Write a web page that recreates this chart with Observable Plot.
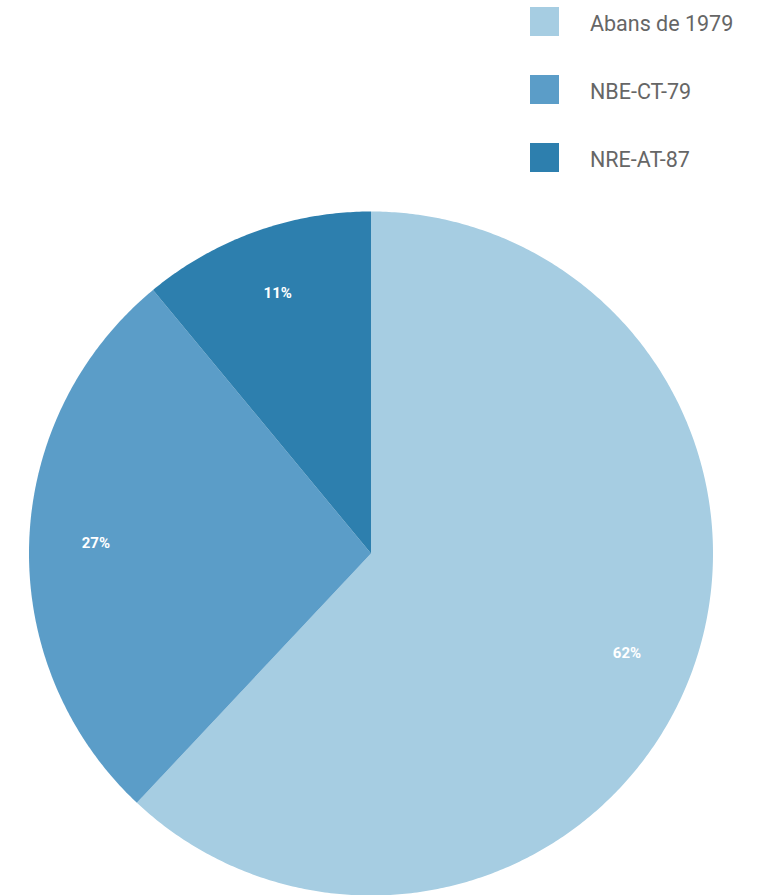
<!DOCTYPE html>
<html><head><meta charset="utf-8">
<script src="https://cdn.jsdelivr.net/npm/d3@7"></script>
<script src="https://cdn.jsdelivr.net/npm/@observablehq/plot@0.6"></script>
<style>
body{margin:0;background:#fff;font-family:Roboto,"Noto Sans",sans-serif;}
#legend{position:relative;height:190px;width:762px;}
.item{position:absolute;left:530px;display:flex;align-items:center;height:29px;}
.sw{width:29px;height:29px;flex:none;}
.lab{margin-left:31px;margin-top:4px;font-size:21.5px;color:#666;white-space:nowrap;}
#chart svg{display:block;}
</style></head><body>
<div id="legend"></div><div id="chart"></div>
<script>
const categories = ["Abans de 1979", "NBE-CT-79", "NRE-AT-87"];
const shares = [62, 27, 11];
const colors = ["#a6cde2", "#5b9dc8", "#2d7fae"];

// legend
const legend = document.getElementById("legend");
categories.forEach((c, i) => {
  const it = document.createElement("div");
  it.className = "item";
  it.style.top = (7 + i * 68) + "px";
  it.innerHTML = `<div class="sw" style="background:${colors[i]}"></div><div class="lab">${c}</div>`;
  legend.appendChild(it);
});

// pie geometry derived from shares (angles clockwise from 12 o'clock)
const arcs = d3.pie().sort(null).value(d => d)(shares);
const features = arcs.map((a, i) => {
  const ring = [[0, 0]];
  const n = Math.max(2, Math.ceil((a.endAngle - a.startAngle) / (Math.PI / 360)));
  for (let k = 0; k <= n; k++) {
    const t = a.startAngle + (a.endAngle - a.startAngle) * k / n;
    ring.push([Math.sin(t), Math.cos(t)]);
  }
  ring.push([0, 0]);
  return {type: "Feature", properties: {cat: categories[i]}, geometry: {type: "Polygon", coordinates: [ring]}};
});
const labelData = arcs.map((a, i) => {
  const m = (a.startAngle + a.endAngle) / 2;
  return {x: 0.805 * Math.sin(m), y: 0.805 * Math.cos(m) + 0.005, text: shares[i] + "%"};
});

const chart = Plot.plot({
  width: 762,
  height: 705,
  marginTop: 21,
  marginBottom: 0,
  marginLeft: 28,
  marginRight: 49,
  projection: {type: "reflect-y", domain: {type: "MultiPoint", coordinates: [[-1, -1], [1, 1]]}},
  color: {domain: categories, range: colors},
  style: {fontFamily: "Roboto, sans-serif", background: "#fff"},
  marks: [
    Plot.geo(features, {fill: d => d.properties.cat}),
    Plot.text(labelData, {x: "x", y: "y", text: "text", fill: "#fff", fontSize: 15, fontWeight: "bold"})
  ]
});
document.getElementById("chart").appendChild(chart);
</script>
</body></html>
